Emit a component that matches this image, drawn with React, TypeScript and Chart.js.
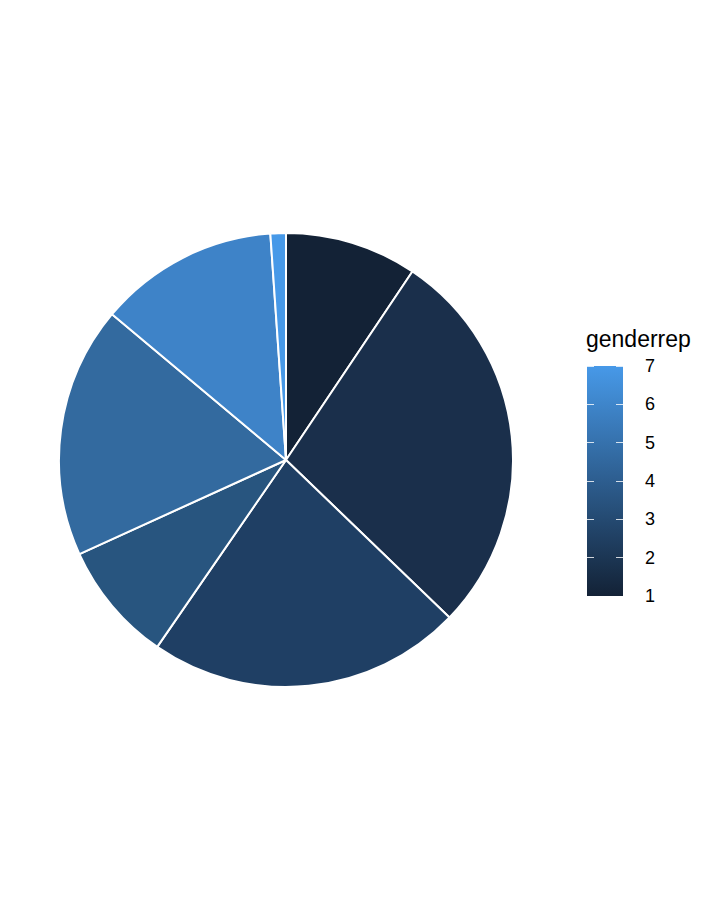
import React, { useEffect, useRef } from 'react';
import { Chart, registerables } from 'chart.js';

Chart.register(...registerables);

const categories = ['1', '2', '3', '4', '5', '6', '7'];
const shares = [9.4, 27.8, 22.4, 8.6, 17.9, 12.8, 1.1];
const sliceColors = ['#132236', '#1a2f4b', '#1f3f64', '#28557f', '#336a9f', '#3e83c8', '#4799e8'];
const legendTicks = [7, 6, 5, 4, 3, 2, 1];

const App = () => {
  const chartRef = useRef<HTMLCanvasElement>(null);
  const chartInstanceRef = useRef<Chart | null>(null);

  useEffect(() => {
    const ctx = chartRef.current!.getContext('2d')!;
    if (chartInstanceRef.current) chartInstanceRef.current.destroy();
    chartInstanceRef.current = new Chart(ctx, {
      type: 'pie',
      data: {
        labels: categories,
        datasets: [
          {
            data: shares,
            backgroundColor: sliceColors,
            borderColor: '#ffffff',
            borderWidth: 2,
          },
        ],
      },
      options: {
        responsive: false,
        animation: false,
        layout: { padding: 2 },
        plugins: { legend: { display: false }, tooltip: { enabled: false } },
      },
    });
    return () => {
      if (chartInstanceRef.current) chartInstanceRef.current.destroy();
    };
  }, []);

  const barTop = 366;
  const barH = 230;
  const step = barH / 6;

  return (
    <div style={{ position: 'fixed', left: 0, top: 0, width: 720, height: 921, background: '#fff', fontFamily: 'Liberation Sans, Arial, sans-serif' }}>
      <canvas ref={chartRef} width={460} height={460} style={{ position: 'absolute', left: 56, top: 230 }} />
      <div style={{ position: 'absolute', left: 586, top: 326, fontSize: 23, color: '#000' }}>genderrep</div>
      <div
        style={{
          position: 'absolute',
          left: 587,
          top: barTop,
          width: 36,
          height: barH,
          background: `linear-gradient(to top, ${sliceColors[0]}, ${sliceColors[6]})`,
        }}
      />
      {legendTicks.map((v) => {
        const y = barTop + (7 - v) * step;
        return (
          <React.Fragment key={v}>
            <div style={{ position: 'absolute', left: 587, top: y - 0.5, width: 7, height: 1, background: 'rgba(255,255,255,0.8)' }} />
            <div style={{ position: 'absolute', left: 616, top: y - 0.5, width: 7, height: 1, background: 'rgba(255,255,255,0.8)' }} />
            <div style={{ position: 'absolute', left: 645, top: y - 11, fontSize: 18, lineHeight: '22px', color: '#000' }}>{v}</div>
          </React.Fragment>
        );
      })}
    </div>
  );
};

export default App;
